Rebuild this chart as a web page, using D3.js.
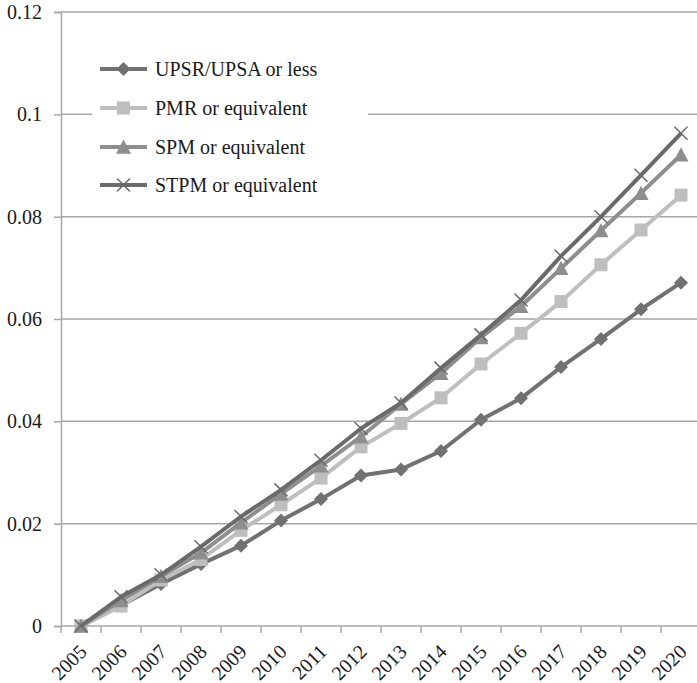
<!DOCTYPE html>
<html><head><meta charset="utf-8">
<script src="https://cdn.jsdelivr.net/npm/d3@7"></script>
<style>html,body{margin:0;padding:0;background:#fff;}svg{display:block;}</style>
</head><body>
<svg id="chart" width="697" height="683"></svg>
<script>
const years = ["2005","2006","2007","2008","2009","2010","2011","2012","2013","2014","2015","2016","2017","2018","2019","2020"];
const yTicks = [0, 0.02, 0.04, 0.06, 0.08, 0.1, 0.12];
const yTickLabels = ["0","0.02","0.04","0.06","0.08","0.1","0.12"];
const seriesNames = ["UPSR/UPSA or less","PMR or equivalent","SPM or equivalent","STPM or equivalent"];
const upsr = [0, 0.0040, 0.0082, 0.0121, 0.0157, 0.0206, 0.0248, 0.0294, 0.0306, 0.0342, 0.0403, 0.0445, 0.0506, 0.0561, 0.0619, 0.0671];
const pmr  = [0, 0.0039, 0.0090, 0.0130, 0.0187, 0.0237, 0.0289, 0.0350, 0.0396, 0.0446, 0.0512, 0.0572, 0.0634, 0.0706, 0.0774, 0.0842];
const spm  = [0, 0.0050, 0.0097, 0.0143, 0.0202, 0.0258, 0.0313, 0.0370, 0.0434, 0.0494, 0.0564, 0.0625, 0.0699, 0.0773, 0.0846, 0.0921];
const stpm = [0, 0.0057, 0.0100, 0.0155, 0.0214, 0.0266, 0.0324, 0.0386, 0.0436, 0.0504, 0.0569, 0.0637, 0.0723, 0.0800, 0.0881, 0.0963];

const colors = ["#717171", "#bebebe", "#8e8e8e", "#6a6a6a"];
const markers = ["diamond", "square", "triangle", "cross"];
const seriesData = [upsr, pmr, spm, stpm];

const svg = d3.select("#chart");
const font = "'Liberation Serif', 'Times New Roman', serif";
const plotLeft = 61, plotRight = 701, plotTop = 12, plotBottom = 626;
const x = d3.scaleBand().domain(years).range([plotLeft, plotRight]);
const y = d3.scaleLinear().domain([0, 0.12]).range([plotBottom, plotTop]);
const gridColor = "#a6a6a6";
const textColor = "#1a1a1a";

svg.append("rect").attr("width",697).attr("height",683).attr("fill","#fff");

// gridlines
svg.append("g").selectAll("line").data(yTicks.slice(1)).join("line")
  .attr("x1", plotLeft).attr("x2", 697)
  .attr("y1", d => y(d)).attr("y2", d => y(d))
  .attr("stroke", gridColor).attr("stroke-width", 1.5);

// y axis
const yAxis = d3.axisLeft(y).tickValues(yTicks).tickSize(7).tickPadding(12)
  .tickFormat((d,i) => yTickLabels[i]);
const gy = svg.append("g").attr("transform", `translate(${plotLeft},0)`).call(yAxis);
gy.select(".domain").attr("stroke", gridColor).attr("stroke-width", 1.5);
gy.selectAll(".tick line").attr("stroke", gridColor).attr("stroke-width", 1.5);
gy.selectAll(".tick text").attr("font-family", font).attr("font-size", 20).attr("fill", textColor);

// x axis line and ticks at band boundaries
svg.append("line").attr("x1", plotLeft).attr("x2", plotRight).attr("y1", plotBottom).attr("y2", plotBottom)
  .attr("stroke", gridColor).attr("stroke-width", 1.5);
svg.append("g").selectAll("line").data(years).join("line")
  .attr("x1", d => x(d)).attr("x2", d => x(d))
  .attr("y1", plotBottom).attr("y2", plotBottom + 7)
  .attr("stroke", gridColor).attr("stroke-width", 1.5);
svg.append("g").selectAll("text").data(years).join("text")
  .attr("transform", d => `translate(${x(d) + x.bandwidth()/2 + 7},${plotBottom + 27}) rotate(-45)`)
  .attr("text-anchor", "end")
  .attr("font-family", font).attr("font-size", 20).attr("fill", textColor)
  .text(d => d);

// marker drawing
function drawMarker(g, type, cx, cy, color) {
  if (type === "diamond") {
    const s = 7;
    g.append("path").attr("d", `M${cx},${cy-s}L${cx+s},${cy}L${cx},${cy+s}L${cx-s},${cy}Z`).attr("fill", color);
  } else if (type === "square") {
    const s = 6.5;
    g.append("rect").attr("x", cx-s).attr("y", cy-s).attr("width", 2*s).attr("height", 2*s).attr("fill", color);
  } else if (type === "triangle") {
    const s = 7.5;
    g.append("path").attr("d", `M${cx},${cy-s}L${cx+s},${cy+s*0.9}L${cx-s},${cy+s*0.9}Z`).attr("fill", color);
  } else {
    const s = 6.5;
    g.append("path").attr("d", `M${cx-s},${cy-s}L${cx+s},${cy+s}M${cx+s},${cy-s}L${cx-s},${cy+s}`)
      .attr("stroke", color).attr("stroke-width", 1.5).attr("fill", "none");
  }
}

const cx = d => x(d) + x.bandwidth()/2;
const line = d3.line().x((d,i) => cx(years[i])).y(d => y(d));

seriesData.forEach((vals, si) => {
  const g = svg.append("g");
  g.append("path").datum(vals).attr("d", line)
    .attr("fill", "none").attr("stroke", colors[si]).attr("stroke-width", 4)
    .attr("stroke-linejoin", "round");
  vals.forEach((v, i) => drawMarker(g, markers[si], cx(years[i]), y(v), colors[si]));
});

// legend
const lg = svg.append("g");
lg.append("rect").attr("x", 92).attr("y", 45).attr("width", 276).attr("height", 160).attr("fill", "#fff");
const legendRows = [69, 108, 147, 185];
seriesNames.forEach((name, i) => {
  const ry = legendRows[i];
  lg.append("line").attr("x1", 100).attr("x2", 147).attr("y1", ry).attr("y2", ry)
    .attr("stroke", colors[i]).attr("stroke-width", 4);
  drawMarker(lg, markers[i], 123.5, ry, colors[i]);
  lg.append("text").attr("x", 155).attr("y", ry).attr("dy", "0.33em")
    .attr("font-family", font).attr("font-size", 20).attr("fill", textColor).text(name);
});
</script>
</body></html>
